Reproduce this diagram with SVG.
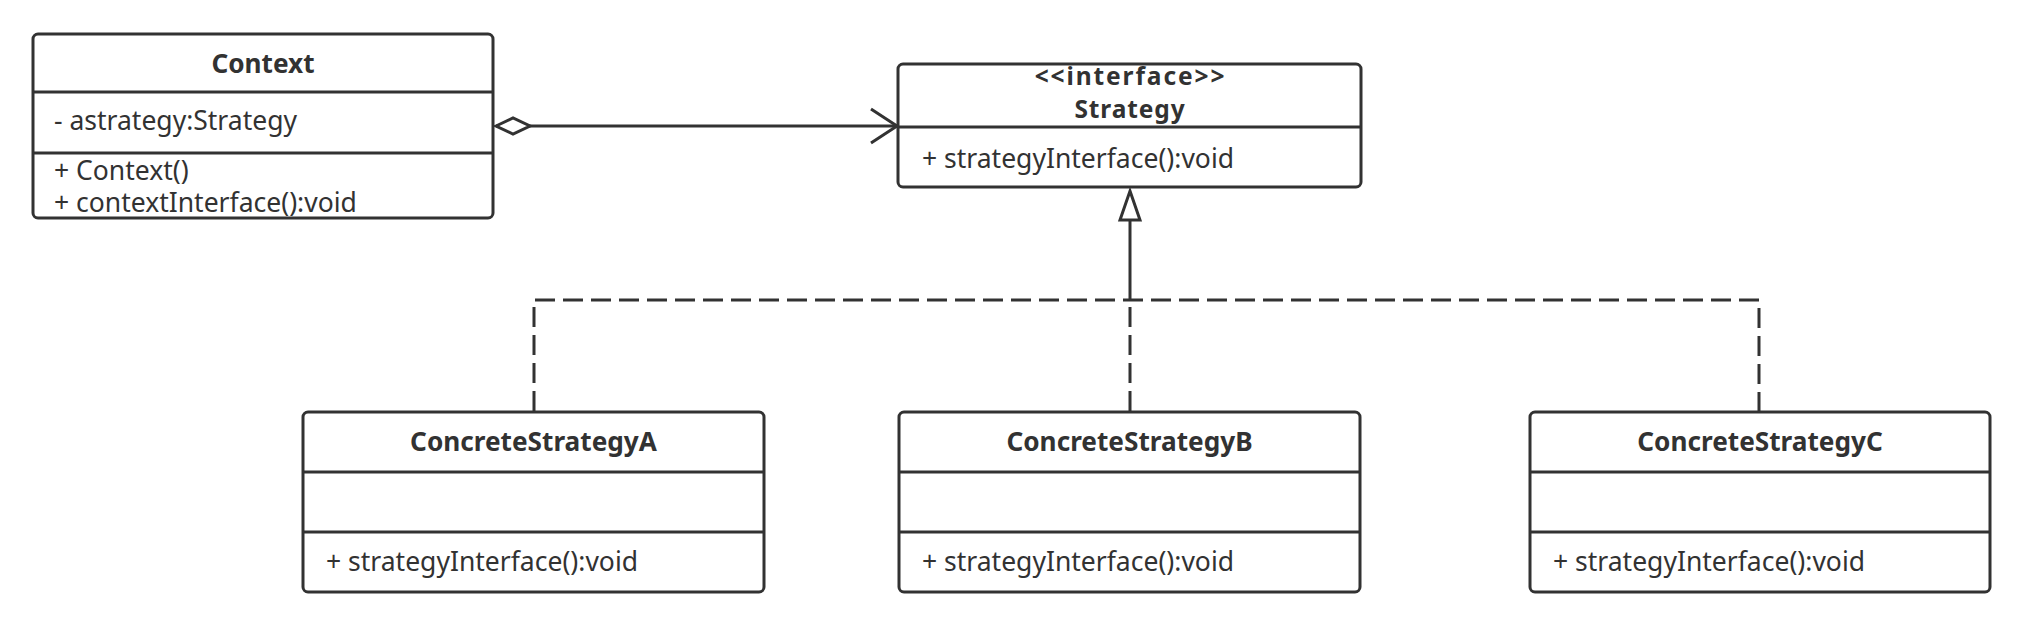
<svg xmlns="http://www.w3.org/2000/svg" width="2033" height="635" viewBox="0 0 2033 635">
  <defs>
    <style>
      .box { fill: #ffffff; stroke: #323232; stroke-width: 3; }
      .div { stroke: #323232; stroke-width: 3; fill: none; }
      .t { font-family: "Noto Sans", "Open Sans", sans-serif; font-size: 26.5px; fill: #323232; }
      .b { font-weight: bold; text-anchor: middle; font-size: 26.2px; }
      .s { font-size: 24.5px; }
      .line { stroke: #323232; stroke-width: 3; fill: none; }
      .dash { stroke: #323232; stroke-width: 3; fill: none; stroke-dasharray: 20 8; }
    </style>
    <marker id="open" markerWidth="30" markerHeight="40" refX="27" refY="18" orient="auto" markerUnits="userSpaceOnUse" viewBox="0 0 30 36">
      <path d="M1,1 L27,18 L1,35" fill="none" stroke="#323232" stroke-width="3"/>
    </marker>
    <marker id="diamond" markerWidth="40" markerHeight="22" refX="2" refY="11" orient="auto" markerUnits="userSpaceOnUse" viewBox="0 0 40 22">
      <path d="M2,11 L19,3 L36,11 L19,19 Z" fill="#ffffff" stroke="#323232" stroke-width="3"/>
    </marker>
  </defs>
  <rect width="2033" height="635" fill="#ffffff"/>

  <g id="connectors">
    <line class="line" x1="496" y1="126" x2="897" y2="126" marker-start="url(#diamond)" marker-end="url(#open)"/>
    <path class="dash" d="M534,411 L534,300 L1759,300 L1759,411"/>
    <line class="dash" x1="1130" y1="411" x2="1130" y2="300"/>
    <line class="line" x1="1130" y1="300" x2="1130" y2="219"/>
    <path d="M1130,191 L1140,220 L1120,220 Z" fill="#ffffff" stroke="#323232" stroke-width="3" stroke-linejoin="miter"/>
  </g>

  <g id="Context">
    <rect class="box" x="33" y="34" width="460" height="184" rx="5"/>
    <line class="div" x1="33" y1="92" x2="493" y2="92"/>
    <line class="div" x1="33" y1="153" x2="493" y2="153"/>
    <text class="t b" x="263" y="73">Context</text>
    <text class="t" x="54" y="130">- astrategy:Strategy</text>
    <text class="t" x="54" y="180">+ Context()</text>
    <text class="t" x="54" y="212">+ contextInterface():void</text>
  </g>

  <g id="Strategy">
    <rect class="box" x="898" y="64" width="463" height="123" rx="5"/>
    <line class="div" x1="898" y1="127" x2="1361" y2="127"/>
    <text class="t b s" x="1130.5" y="84.5" letter-spacing="1.9">&lt;&lt;interface&gt;&gt;</text>
    <text class="t b s" x="1130" y="118" letter-spacing="0.9">Strategy</text>
    <text class="t" x="922" y="168">+ strategyInterface():void</text>
  </g>

  <g id="ConcreteStrategyA">
    <rect class="box" x="303" y="412" width="461" height="180" rx="5"/>
    <line class="div" x1="303" y1="472" x2="764" y2="472"/>
    <line class="div" x1="303" y1="532" x2="764" y2="532"/>
    <text class="t b" x="533.5" y="451">ConcreteStrategyA</text>
    <text class="t" x="326" y="571">+ strategyInterface():void</text>
  </g>

  <g id="ConcreteStrategyB">
    <rect class="box" x="899" y="412" width="461" height="180" rx="5"/>
    <line class="div" x1="899" y1="472" x2="1360" y2="472"/>
    <line class="div" x1="899" y1="532" x2="1360" y2="532"/>
    <text class="t b" x="1129.5" y="451">ConcreteStrategyB</text>
    <text class="t" x="922" y="571">+ strategyInterface():void</text>
  </g>

  <g id="ConcreteStrategyC">
    <rect class="box" x="1530" y="412" width="460" height="180" rx="5"/>
    <line class="div" x1="1530" y1="472" x2="1990" y2="472"/>
    <line class="div" x1="1530" y1="532" x2="1990" y2="532"/>
    <text class="t b" x="1760" y="451">ConcreteStrategyC</text>
    <text class="t" x="1553" y="571">+ strategyInterface():void</text>
  </g>
</svg>
